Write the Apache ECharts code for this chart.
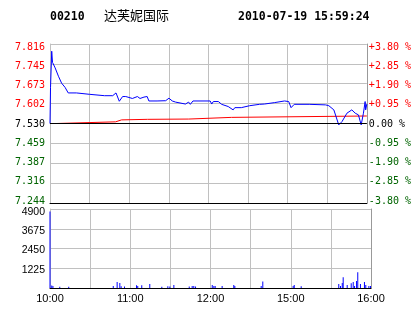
<!DOCTYPE html>
<html>
<head>
<meta charset="utf-8">
<script src="https://cdn.jsdelivr.net/npm/echarts@6/dist/echarts.min.js"></script>
<style>html,body{margin:0;padding:0;background:#fff;}#c{width:414px;height:314px;}</style>
</head>
<body>
<div id="c"></div>
<script>
// ---- header ----
var stockCode = '00210';
var stockName = '达芙妮国际';
var stampText = '2010-07-19 15:59:24';
var prevClose = 7.530;

// ---- tick labels ----
var priceTickLabels = ['7.244','7.316','7.387','7.459','7.530','7.602','7.673','7.745','7.816'];
var pctTickLabels = ['-3.80 %','-2.85 %','-1.90 %','-0.95 %','0.00 %','+0.95 %','+1.90 %','+2.85 %','+3.80 %'];
var volTickLabels = ['', '1225', '2450', '3675', '4900'];
var timeTickLabels = ['10:00', '11:00', '12:00', '15:00', '16:00'];

// ---- price line (minute index from 10:00, price) ----
var priceTimes = [0,0.4,1.3,1.9,3.9,6.4,8.8,11.4,13.8,20,30,41.3,47.5,50,52.5,55,57.4,62.4,66.2,68.2,71.2,73.6,74.9,81.1,87.6,90.1,92.6,95.1,102.6,105,106.3,108.3,121.3,122.5,123.7,127.5,130,135,138.7,140,144.9,151.2,158.7,162.4,169.9,177.6,180.8,182.6,185,196.3,208.7,211.2,215,218.7,221.2,224.9,226.3,228.6,229.9,231.2,233.6,235.7,237.4,238.7,239.1,240];
var priceValues = [7.53,7.66,7.79,7.75,7.73,7.70,7.675,7.66,7.64,7.64,7.635,7.63,7.63,7.64,7.61,7.627,7.627,7.62,7.627,7.62,7.625,7.627,7.611,7.611,7.612,7.621,7.611,7.607,7.600,7.607,7.599,7.611,7.611,7.600,7.609,7.609,7.599,7.591,7.579,7.587,7.587,7.594,7.599,7.600,7.605,7.611,7.609,7.587,7.599,7.599,7.597,7.594,7.579,7.525,7.537,7.567,7.573,7.579,7.582,7.567,7.561,7.525,7.567,7.609,7.579,7.600];

// ---- average price line ----
var avgTimes = [0,4.9,49.7,54.2,73.9,105,137.4,240];
var avgValues = [7.530,7.536,7.543,7.545,7.546,7.552,7.557,7.557];

// ---- volume bars ----
var volTimes = [0,1.3,2.2,7.3,14,47.3,50.2,52.2,53.2,55.7,64.7,65.6,68.6,74.6,83.6,88.1,89.6,92.6,104.1,106.3,107.5,108.8,121.3,122.5,123.5,128.7,137.4,138.2,157.9,159.1,181.8,182.6,187.8,215.9,217.2,218.5,219.2,222.2,225.2,226.7,227.7,229.2,230.1,232.1,235.1,236.1,238.4,239.6];
var volValues = [4750,150,130,80,80,120,370,310,110,90,170,130,170,250,80,110,100,190,100,120,130,100,190,130,120,130,190,120,130,410,130,190,110,250,120,310,660,190,290,370,120,430,970,250,370,190,130,120];

function zip(a, b) { return a.map(function (v, i) { return [v, b[i]]; }); }

var RED = '#ff0000', GREEN = '#006400', BLACK = '#000000', GRID = '#c0c0c0';
var MONO = '"DejaVu Sans Mono", monospace';
var SANS = '"Liberation Sans", Arial, sans-serif';

var pMin = 7.244, pMax = 7.816, pStep = 0.0715;
function pIdx(v) { return Math.round((v - pMin) / pStep); }
function qIdx(v) { return Math.round((v + 3.8) / 0.95); }
function idxColor(i) { return i > 4 ? RED : (i === 4 ? BLACK : GREEN); }

// per-tick vertical nudge of label text (px, + = down)
function padFor(shift) { return shift >= 0 ? [2 * shift, 0, 0, 0] : [0, 0, -2 * shift, 0]; }
var priceRich = {};
for (var i = 0; i < 9; i++) {
  priceRich['p' + i] = { color: idxColor(i), fontFamily: MONO, fontSize: 10, padding: padFor(-2 + 0.62 * i) };
}
var volRich = {};
for (var j = 0; j < 5; j++) {
  volRich['v' + j] = { color: '#000', fontFamily: SANS, fontSize: 10.5, padding: padFor(j === 4 ? 3.5 : 2) };
}

var chart = echarts.init(document.getElementById('c'), null, { renderer: 'canvas' });
chart.setOption({
  animation: false,
  backgroundColor: '#fff',
  graphic: [
    { type: 'text', left: 50, top: 11, style: { text: stockCode, font: 'bold 11.5px ' + MONO, fill: '#000' } },
    { type: 'text', left: 104, top: 9, style: { text: stockName, font: '13px "Noto Sans CJK SC"', fill: '#000' } },
    { type: 'text', left: 238, top: 11, style: { text: stampText, font: 'bold 11.5px ' + MONO, fill: '#000' } }
  ],
  grid: [
    { left: 50, right: 43, top: 44, height: 159 },
    { left: 50, right: 43, top: 209, height: 79 }
  ],
  xAxis: [
    { type: 'value', gridIndex: 0, min: 0, max: 240, interval: 30,
      axisLine: { show: true, onZero: false, lineStyle: { color: BLACK, width: 1 } },
      axisTick: { show: false }, axisLabel: { show: false },
      splitLine: { show: true, lineStyle: { color: GRID, width: 1 } } },
    { type: 'value', gridIndex: 1, min: 0, max: 240, interval: 30,
      axisLine: { show: true, onZero: false, lineStyle: { color: BLACK, width: 1 } },
      axisTick: { show: false },
      axisLabel: { show: true, margin: 5, color: '#000', fontFamily: SANS, fontSize: 11,
        formatter: function (v) { return (Math.round(v) % 60 === 0) ? timeTickLabels[Math.round(v) / 60] : ''; } },
      splitLine: { show: true, lineStyle: { color: GRID, width: 1 } } }
  ],
  yAxis: [
    { type: 'value', gridIndex: 0, position: 'left', min: pMin, max: pMax, interval: pStep,
      axisLine: { show: true, lineStyle: { color: GRID } }, axisTick: { show: false },
      axisLabel: { margin: 5, fontFamily: MONO, fontSize: 10, rich: priceRich,
        formatter: function (v) { var k = pIdx(v); return '{p' + k + '|' + priceTickLabels[k] + '}'; } },
      splitLine: { show: true, lineStyle: { color: GRID, width: 1 } } },
    { type: 'value', gridIndex: 0, position: 'right', min: -3.8, max: 3.8, interval: 0.95,
      axisLine: { show: true, lineStyle: { color: '#999' } }, axisTick: { show: false },
      axisLabel: { margin: 2, fontFamily: MONO, fontSize: 10, rich: priceRich,
        formatter: function (v) { var k = qIdx(v); return '{p' + k + '|' + pctTickLabels[k] + '}'; } },
      splitLine: { show: false } },
    { type: 'value', gridIndex: 1, position: 'left', min: 0, max: 4900, interval: 1225,
      axisLine: { show: true, lineStyle: { color: GRID } }, axisTick: { show: false },
      axisLabel: { margin: 5, fontFamily: SANS, fontSize: 10.5, color: '#000', rich: volRich,
        formatter: function (v) { var k = Math.round(v / 1225); return volTickLabels[k] ? '{v' + k + '|' + volTickLabels[k] + '}' : ''; } },
      splitLine: { show: true, lineStyle: { color: GRID, width: 1 } } },
    { type: 'value', gridIndex: 1, position: 'right', min: 0, max: 4900, interval: 1225,
      axisLine: { show: true, lineStyle: { color: '#999' } }, axisTick: { show: false },
      axisLabel: { show: false }, splitLine: { show: false } }
  ],
  series: [
    { type: 'line', xAxisIndex: 0, yAxisIndex: 0, data: zip(avgTimes, avgValues), step: 'end',
      showSymbol: false, lineStyle: { color: RED, width: 1 }, z: 3,
      markLine: { silent: true, symbol: 'none', label: { show: false },
        lineStyle: { color: BLACK, width: 1, type: 'solid' }, data: [{ yAxis: prevClose }] } },
    { type: 'line', xAxisIndex: 0, yAxisIndex: 0, data: zip(priceTimes, priceValues),
      showSymbol: false, lineStyle: { color: '#0000ff', width: 1 }, z: 4 },
    { type: 'bar', xAxisIndex: 1, yAxisIndex: 2, data: zip(volTimes, volValues),
      barWidth: 1, itemStyle: { color: '#0000ff' } }
  ]
});
</script>
</body>
</html>
